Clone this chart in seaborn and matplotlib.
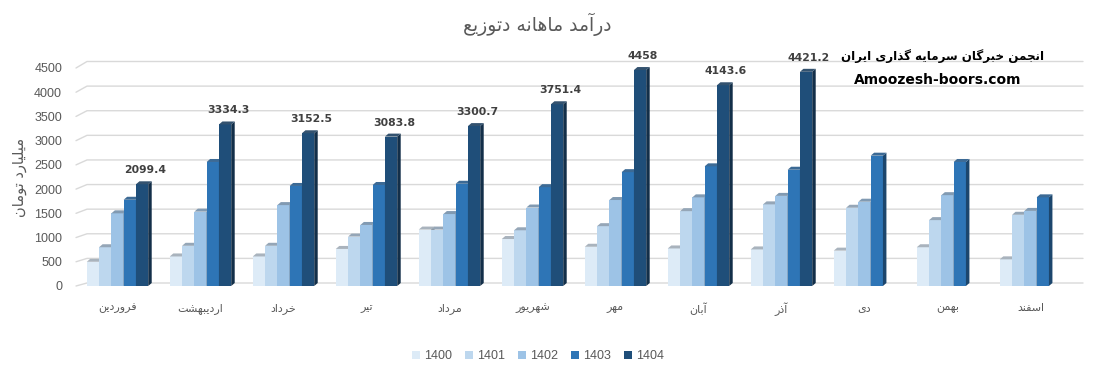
import numpy as np
import pandas as pd
import matplotlib
matplotlib.use("Agg")
import matplotlib.pyplot as plt
from matplotlib.patches import Polygon, Patch
from matplotlib.lines import Line2D
import matplotlib.colors as mcolors
import seaborn as sns

# ---------------- data ----------------
months = ["فروردین", "اردیبهشت", "خرداد", "تیر", "مرداد", "شهریور",
          "مهر", "آبان", "آذر", "دی", "بهمن", "اسفند"]
years = ["1400", "1401", "1402", "1403", "1404"]
v1400 = [500, 610, 610, 765, 1165, 970, 810, 775, 755, 730, 800, 550]
v1401 = [800, 830, 830, 1020, 1165, 1150, 1235, 1545, 1685, 1615, 1360, 1470]
v1402 = [1500, 1535, 1670, 1260, 1485, 1620, 1775, 1830, 1860, 1740, 1875, 1550]
v1403 = [1780, 2560, 2065, 2085, 2110, 2040, 2350, 2470, 2400, 2690, 2560, 1830]
v1404 = [2099.4, 3334.3, 3152.5, 3083.8, 3300.7, 3751.4, 4458, 4143.6, 4421.2,
         np.nan, np.nan, np.nan]
yticks = [0, 500, 1000, 1500, 2000, 2500, 3000, 3500, 4000, 4500]
title = "درآمد ماهانه دتوزیع"
ylabel = "میلیارد تومان"
watermark1 = "انجمن خبرگان سرمایه گذاری ایران"
watermark2 = "Amoozesh-boors.com"
colors = ["#DDEBF7", "#BDD7EE", "#9DC3E6", "#2E75B6", "#1F4E79"]

# ---------------- minimal Persian shaping ----------------
FORMS = {
    'ا': ('\uFE8D', '\uFE8E', None, None),
    'آ': ('\uFE81', '\uFE82', None, None),
    'ب': ('\uFE8F', '\uFE90', '\uFE91', '\uFE92'),
    'پ': ('\uFB56', '\uFB57', '\uFB58', '\uFB59'),
    'ت': ('\uFE95', '\uFE96', '\uFE97', '\uFE98'),
    'ج': ('\uFE9D', '\uFE9E', '\uFE9F', '\uFEA0'),
    'خ': ('\uFEA5', '\uFEA6', '\uFEA7', '\uFEA8'),
    'د': ('\uFEA9', '\uFEAA', None, None),
    'ذ': ('\uFEAB', '\uFEAC', None, None),
    'ر': ('\uFEAD', '\uFEAE', None, None),
    'ز': ('\uFEAF', '\uFEB0', None, None),
    'س': ('\uFEB1', '\uFEB2', '\uFEB3', '\uFEB4'),
    'ش': ('\uFEB5', '\uFEB6', '\uFEB7', '\uFEB8'),
    'ع': ('\uFEC9', '\uFECA', '\uFECB', '\uFECC'),
    'ف': ('\uFED1', '\uFED2', '\uFED3', '\uFED4'),
    'گ': ('\uFB92', '\uFB93', '\uFB94', '\uFB95'),
    'ل': ('\uFEDD', '\uFEDE', '\uFEDF', '\uFEE0'),
    'م': ('\uFEE1', '\uFEE2', '\uFEE3', '\uFEE4'),
    'ن': ('\uFEE5', '\uFEE6', '\uFEE7', '\uFEE8'),
    'ه': ('\uFEE9', '\uFEEA', '\uFEEB', '\uFEEC'),
    'و': ('\uFEED', '\uFEEE', None, None),
    'ی': ('\uFBFC', '\uFBFD', '\uFBFE', '\uFBFF'),
}


def fa(s):
    out = []
    for i, c in enumerate(s):
        if c not in FORMS:
            out.append(c)
            continue
        f = FORMS[c]
        prev = s[i - 1] if i > 0 else None
        nxt = s[i + 1] if i + 1 < len(s) else None
        jp = prev in FORMS and FORMS[prev][2] is not None
        jn = f[2] is not None and nxt in FORMS
        if jp and jn:
            out.append(f[3])
        elif jp:
            out.append(f[1])
        elif jn:
            out.append(f[2])
        else:
            out.append(f[0])
    return "".join(out)[::-1]


# ---------------- figure ----------------
sns.set_theme(style="white")
plt.rcParams["font.family"] = ["Liberation Sans", "DejaVu Sans"]
GRAY = "#595959"
FA_FONT = ["DejaVu Sans"]

W, H = 1120, 377
fig = plt.figure(figsize=(W / 100, H / 100), dpi=100)
ax = fig.add_axes([76 / W, 1 - 286 / H, (1072 - 76) / W, (286 - 68) / H])

df = pd.DataFrame({
    "month": np.repeat(months, len(years)),
    "year": np.tile(years, len(months)),
    "value": np.column_stack([v1400, v1401, v1402, v1403, v1404]).ravel(),
})
df = df.dropna()

sns.barplot(data=df, x="month", y="value", hue="year", order=months,
            hue_order=years, palette=colors, saturation=1, width=0.74,
            ax=ax, legend=False, edgecolor="none", linewidth=0)

ax.set_ylim(0, 4500)
ax.set_xlim(-0.5, len(months) - 0.5)
for s in ax.spines.values():
    s.set_visible(False)
ax.set_xlabel("")
ax.set_ylabel("")
ax.set_yticks(yticks)
ax.set_yticklabels([str(t) for t in yticks], fontsize=9, color=GRAY,
                   family=["Liberation Sans"])
ax.set_xticks(range(len(months)))
ax.set_xticklabels([fa(m) for m in months], fontsize=8, color=GRAY,
                   family=FA_FONT)
ax.tick_params(axis="both", length=0)
ax.tick_params(axis="y", pad=10)
ax.tick_params(axis="x", pad=12)
ax.grid(False)

fig.canvas.draw()
to_disp = ax.transData.transform
to_data = ax.transData.inverted().transform

# 3D-like gridlines on a back wall
DX_WALL = 11
x_left_disp = to_disp((-0.5, 0))[0]
x_right_disp = to_disp((len(months) - 0.5, 0))[0]
for t in yticks:
    yf = to_disp((0, t))[1]
    yb = yf + 3 + 3.5 * t / 4500
    pts = np.array([[x_left_disp, yf], [x_left_disp + DX_WALL, yb],
                    [x_right_disp + DX_WALL, yb]])
    d = to_data(pts)
    ax.add_line(Line2D(d[:, 0], d[:, 1], color="#d9d9d9", lw=1.0,
                       zorder=0.5, clip_on=False))

# 3D depth for bars
DX, DY = 3.5, 3.0
bars = [p for p in list(ax.patches) if np.isfinite(p.get_height()) and p.get_height() > 0]
bars.sort(key=lambda p: p.get_x())
for rank, p in enumerate(bars):
    x0, y0 = p.get_x(), p.get_y()
    x1, y1 = x0 + p.get_width(), y0 + p.get_height()
    (X0, Y0), (X1, Y1) = to_disp((x0, y0)), to_disp((x1, y1))
    base = np.array(mcolors.to_rgb(p.get_facecolor()))
    z = 2 + rank * 0.01
    p.set_zorder(z)
    side = to_data(np.array([[X1, Y0], [X1, Y1], [X1 + DX, Y1 + DY], [X1 + DX, Y0 + DY]]))
    top = to_data(np.array([[X0, Y1], [X1, Y1], [X1 + DX, Y1 + DY], [X0 + DX, Y1 + DY]]))
    ax.add_patch(Polygon(side, closed=True, facecolor=base * 0.6, edgecolor="none",
                         zorder=z + 0.005, clip_on=False))
    topc = base * 0.62 + np.array([0.5, 0.52, 0.56]) * 0.25
    ax.add_patch(Polygon(top, closed=True, facecolor=np.clip(topc, 0, 1),
                         edgecolor="none", zorder=z + 0.005, clip_on=False))

# data labels for 1404
last = [p for p in bars if mcolors.to_hex(p.get_facecolor()).lower() == colors[-1].lower()]
for p in last:
    ax.annotate(f"{p.get_height():g}", (p.get_x() + p.get_width() / 2, p.get_height()),
                xytext=(3, 9), textcoords="offset pixels", ha="center", va="bottom",
                fontsize=7.8, fontweight="bold", color="#404040",
                family=["DejaVu Sans"], zorder=10)

# titles and texts
fig.text(537 / W, 1 - 24 / H, fa(title), ha="center", va="center",
         fontsize=13.5, color=GRAY, family=FA_FONT)
fig.text(20 / W, 1 - 177 / H, fa(ylabel), ha="center", va="center",
         rotation=90, fontsize=10.5, color=GRAY, family=FA_FONT)
fig.text(1044 / W, 1 - 56 / H, fa(watermark1), ha="right", va="center",
         fontsize=8.6, fontweight="bold", color="black", family=FA_FONT, zorder=20)
fig.text(938 / W, 1 - 80 / H, watermark2, ha="center", va="center",
         fontsize=10, fontweight="bold", color="black", family=["DejaVu Sans"], zorder=20)

# legend
handles = [Patch(facecolor=c, edgecolor="none") for c in colors]
fig.legend(handles, years, ncol=5, loc="center", bbox_to_anchor=(538 / W, 1 - 356 / H),
           frameon=False, fontsize=9, handlelength=0.6, handleheight=0.6,
           handletextpad=0.35, columnspacing=1.05, labelcolor=GRAY)

fig.savefig("out.png", dpi=100)
